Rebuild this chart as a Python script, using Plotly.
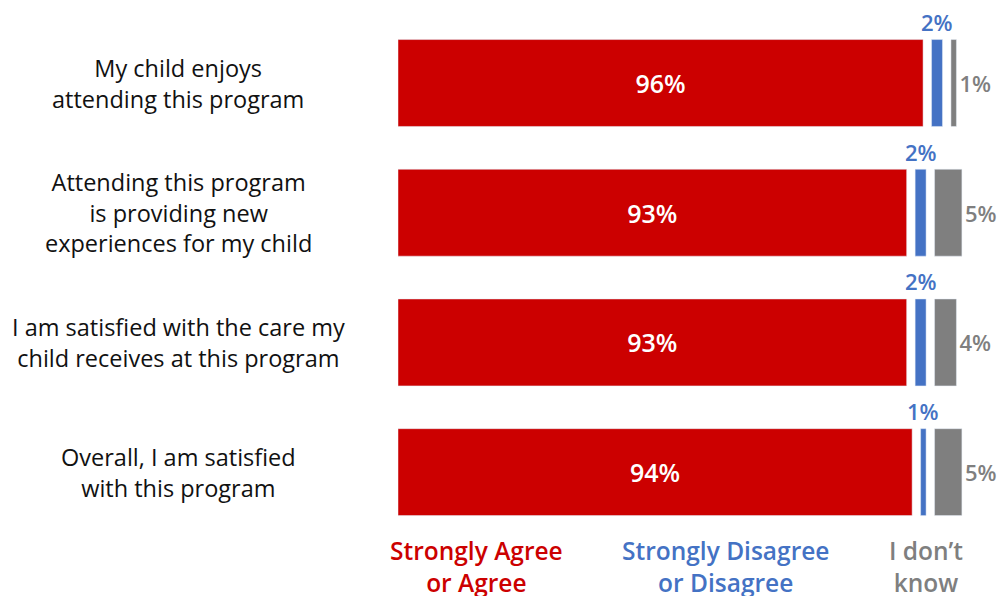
import plotly.graph_objects as go

categories = [
    "My child enjoys<br>attending this program",
    "Attending this program<br>is providing new<br>experiences for my child",
    "I am satisfied with the care my<br>child receives at this program",
    "Overall, I am satisfied<br>with this program",
]
agree = [96, 93, 93, 94]
disagree = [2, 2, 2, 1]
dont_know = [1, 5, 4, 5]
series_names = ["Strongly Agree<br>or Agree", "Strongly Disagree<br>or Disagree", "I don\u2019t<br>know"]

RED = "#CC0000"
BLUE = "#4472C4"
GRAY = "#7F7F7F"
GAP = 1.55
FONT = "Open Sans"

ypos = list(range(len(categories)))
base_blue = [a + GAP for a in agree]
base_gray = [a + d + 2 * GAP for a, d in zip(agree, disagree)]

fig = go.Figure()
fig.add_bar(y=ypos, x=agree, base=[0] * 4, orientation="h", marker_color=RED, width=0.67,
            text=[f"{v}%" for v in agree], textposition="inside", insidetextanchor="middle",
            textfont=dict(color="white", size=25, family=FONT, weight=600), name="agree")
fig.add_bar(y=ypos, x=disagree, base=base_blue, orientation="h", marker_color=BLUE, width=0.67,
            name="disagree")
fig.add_bar(y=ypos, x=dont_know, base=base_gray, orientation="h", marker_color=GRAY, width=0.67,
            text=[f"{v}%" for v in dont_know], textposition="outside",
            textfont=dict(color=GRAY, size=22, family=FONT, weight=600), cliponaxis=False, name="dk")

for i in ypos:
    fig.add_annotation(x=base_blue[i] + disagree[i] / 2, y=i, yshift=61, text=f"{disagree[i]}%",
                       showarrow=False, font=dict(color=BLUE, size=22, family=FONT, weight=600),
                       xref="x", yref="y")
    fig.add_annotation(x=178 / 998, xref="paper", xanchor="center", y=i, yref="y", text=categories[i],
                       showarrow=False, align="center",
                       font=dict(color="#111111", size=23.5, family=FONT))

legend_x = [476 / 998, 725 / 998, 926 / 998]
colors = [RED, BLUE, GRAY]
for name, lx, c in zip(series_names, legend_x, colors):
    fig.add_annotation(x=lx, xref="paper", xanchor="center", y=3.725, yref="y", text=name,
                       showarrow=False, align="center",
                       font=dict(color=c, size=24.5, family=FONT, weight=600))

fig.update_layout(
    width=998, height=596, margin=dict(l=0, r=0, t=0, b=0),
    plot_bgcolor="white", paper_bgcolor="white", showlegend=False, barmode="overlay",
    xaxis=dict(domain=[398 / 998, 1], range=[0, 109.7], visible=False),
    yaxis=dict(range=[3.955, -0.64], visible=False),
)
fig.write_html("out.html", config={"displayModeBar": False},
               post_script="document.body.style.margin='0';")
